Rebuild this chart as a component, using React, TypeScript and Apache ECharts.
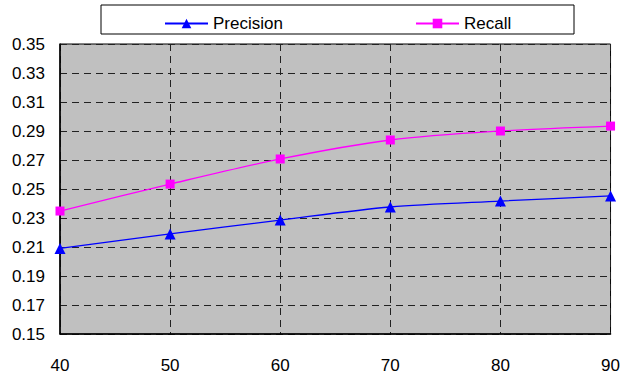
import React, { useEffect, useRef } from "react";
import * as echarts from "echarts";

const categories = ["40", "50", "60", "70", "80", "90"];
const precision = [0.209, 0.219, 0.2286, 0.2376, 0.2417, 0.2452];
const recall = [0.2348, 0.2534, 0.2707, 0.2838, 0.29, 0.2934];
const yMin = 0.15;
const yMax = 0.35;
const yStep = 0.02;

export default function App() {
  const ref = useRef<HTMLDivElement>(null);
  useEffect(() => {
    if (!ref.current) return;
    const chart = echarts.init(ref.current, undefined, { renderer: "svg" });
    const shift = (arr: number[]) => arr.map((v) => +(v - yMin).toFixed(4));
    const font = "Liberation Sans";
    chart.setOption({
      animation: false,
      textStyle: { fontFamily: font },
      graphic: [
        {
          type: "rect",
          shape: { x: 101, y: 5, width: 473, height: 29 },
          style: { fill: "#fff", stroke: "#000", lineWidth: 1 },
          z: 0,
        },
      ],
      legend: [
        {
          data: ["Precision"],
          left: 164,
          top: 15,
          padding: 0,
          itemWidth: 43,
          itemHeight: 12,
          itemGap: 0,
          textStyle: { fontFamily: font, fontSize: 17, color: "#000" },
          z: 5,
        },
        {
          data: ["Recall"],
          left: 415,
          top: 15,
          padding: 0,
          itemWidth: 43,
          itemHeight: 12,
          textStyle: { fontFamily: font, fontSize: 17, color: "#000" },
          z: 5,
        },
      ],
      grid: {
        left: 60,
        right: 11,
        top: 44,
        bottom: 45,
        show: true,
        backgroundColor: "#c0c0c0",
        borderColor: "#000",
        borderWidth: 1,
      },
      xAxis: {
        type: "category",
        data: categories,
        boundaryGap: false,
        axisLine: { lineStyle: { color: "#000", width: 1.5 } },
        axisTick: { show: false },
        axisLabel: { color: "#000", fontSize: 17, margin: 23, fontFamily: font },
        splitLine: {
          show: true,
          interval: 0,
          lineStyle: { color: "#222", type: [7, 5], width: 1 },
        },
      },
      yAxis: {
        type: "value",
        min: 0,
        max: +(yMax - yMin).toFixed(4),
        interval: yStep,
        axisLine: { show: true, lineStyle: { color: "#000", width: 1.5 } },
        axisTick: { show: false },
        axisLabel: {
          color: "#000",
          fontSize: 17,
          margin: 15,
          fontFamily: font,
          formatter: (v: number) => (v + yMin).toFixed(2),
        },
        splitLine: {
          show: true,
          lineStyle: { color: "#222", type: [7, 5], width: 1 },
        },
      },
      series: [
        {
          name: "Precision",
          type: "line",
          data: shift(precision),
          smooth: 0.3,
          symbol: "triangle",
          symbolSize: 11,
          itemStyle: { color: "#0000ff" },
          lineStyle: { color: "#0000ff", width: 1.3 },
          z: 3,
        },
        {
          name: "Recall",
          type: "line",
          data: shift(recall),
          smooth: 0.3,
          symbol: "rect",
          symbolSize: 9,
          itemStyle: { color: "#ff00ff" },
          lineStyle: { color: "#ff00ff", width: 1.3 },
          z: 3,
        },
      ],
    });
    return () => chart.dispose();
  }, []);
  return <div ref={ref} style={{ width: 623, height: 379, position: "absolute", left: 0, top: 0 }} />;
}
